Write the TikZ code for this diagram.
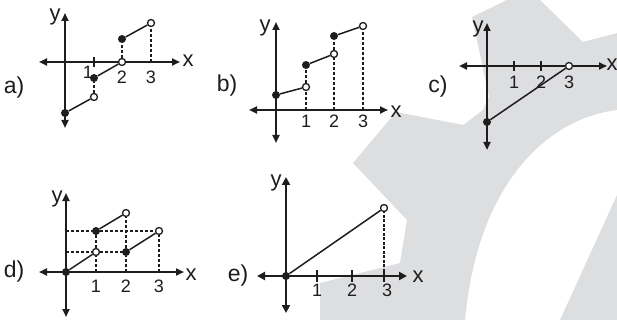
\documentclass[tikz,border=0pt]{standalone}
\usepackage{fontspec}
\setmainfont{Liberation Sans}
\usetikzlibrary{arrows.meta}
\definecolor{gearshade}{RGB}{221,222,224}
\definecolor{inkblack}{RGB}{30,28,29}

\begin{document}
\begin{tikzpicture}[x=1pt, y=-1pt, color=inkblack,
      axis/.style={{Triangle[length=8pt,width=7pt]}-{Triangle[length=8pt,width=7pt]},
                   line width=2pt},
      boldaxis/.style={{Triangle[length=8pt,width=8pt]}-{Triangle[length=8pt,width=8pt]},
                   line width=2.8pt},
      tickmark/.style={line width=1.6pt},
      seg/.style={line width=1.5pt},
      guide/.style={line width=1.3pt, dash pattern=on 3pt off 2pt},
      boldguide/.style={line width=2.4pt, dash pattern=on 3pt off 1.5pt},
      fdot/.style={circle, fill=inkblack, inner sep=0pt, minimum size=8pt},
      odot/.style={circle, draw, fill=white, line width=1.3pt, inner sep=0pt,
                   minimum size=7pt},
      num/.style={font=\fontsize{18}{18}\selectfont},
      axl/.style={font=\fontsize{22}{22}\selectfont},
      lbl/.style={font=\fontsize{23}{23}\selectfont}
    ]
    \useasboundingbox (0,0) rectangle (617,320);

    % gear watermark
    \fill[gearshade] (320,320) -- (320,283) -- (400,263) -- (407,220) -- (353,163)
      -- (396,112) -- (463,125) -- (483,110) -- (489,97) -- (472,17) -- (507,0)
      -- (540,0) -- (583,42) -- (617,33) -- (617,110)
      .. controls (550,118) and (478,180) .. (465,320) -- cycle;
    \fill[gearshade] (560,320) -- (617,195) -- (617,320) -- cycle;

    % a)
    \node[lbl] (lbla) at (14,88) {a)};
    \draw[axis] (39,62) -- (180,62);
    \draw[axis] (65,128) -- (65,13);
    \draw[tickmark] (94,57) -- (94,67);
    \node[axl] (ya) at (55,17) {y};
    \node[axl] (xa) at (188,61) {x};
    \node[num] (na1) at (88,72) {1};
    \node[num] (na2) at (122,77) {2};
    \node[num] (na3) at (151,77) {3};
    \coordinate (a3x) at (151,62);
    \node[fdot] (a0) at (65,113) {};
    \node[odot] (a1o) at (94,97) {};
    \node[fdot] (a1f) at (94,78) {};
    \node[odot] (a2o) at (122,62) {};
    \node[fdot] (a2f) at (122,39) {};
    \node[odot] (a3o) at (151,23) {};
    \draw[seg] (a0) -- (a1o);
    \draw[seg] (a1f) -- (a2o);
    \draw[seg] (a2f) -- (a3o);
    \draw[guide] (a1o) -- (a1f);
    \draw[guide] (a2o) -- (a2f);
    \draw[guide] (a3x) -- (a3o);

    % b)
    \node[lbl] (lblb) at (227,86) {b)};
    \draw[axis] (249,110) -- (388,110);
    \draw[axis] (276,143) -- (276,22);
    \node[axl] (yb) at (265,28) {y};
    \node[axl] (xb) at (396,112) {x};
    \node[num] (nb1) at (306,121) {1};
    \node[num] (nb2) at (334,121) {2};
    \node[num] (nb3) at (363,121) {3};
    \coordinate (b1x) at (306,110);
    \coordinate (b2x) at (334,110);
    \coordinate (b3x) at (363,110);
    \node[fdot] (b0) at (276,95) {};
    \node[odot] (b1o) at (306,87) {};
    \node[fdot] (b1f) at (306,65) {};
    \node[odot] (b2o) at (334,54) {};
    \node[fdot] (b2f) at (334,36) {};
    \node[odot] (b3o) at (363,26) {};
    \draw[seg] (b0) -- (b1o);
    \draw[seg] (b1f) -- (b2o);
    \draw[seg] (b2f) -- (b3o);
    \draw[guide] (b1x) -- (b1o);
    \draw[guide] (b1o) -- (b1f);
    \draw[guide] (b2x) -- (b2o);
    \draw[guide] (b2o) -- (b2f);
    \draw[guide] (b3x) -- (b3o);

    % c)
    \node[lbl] (lblc) at (438,87) {c)};
    \draw[axis] (459,66) -- (607,66);
    \draw[axis] (487,150) -- (487,23);
    \draw[tickmark] (514,61) -- (514,71);
    \draw[tickmark] (541,61) -- (541,71);
    \node[axl] (yc) at (478,29) {y};
    \node[axl] (xc) at (612,65) {x};
    \node[num] (nc1) at (514,82) {1};
    \node[num] (nc2) at (541,82) {2};
    \node[num] (nc3) at (569,82) {3};
    \node[fdot] (c0) at (487,122) {};
    \node[odot] (c3o) at (569,66) {};
    \draw[seg] (c0) -- (c3o);

    % d)
    \node[lbl] (lbld) at (14,272) {d)};
    \draw[axis] (39,272) -- (184,272);
    \draw[axis] (66,317) -- (66,193);
    \node[axl] (yd) at (57,199) {y};
    \node[axl] (xd) at (191,275) {x};
    \node[num] (nd1) at (96,286) {1};
    \node[num] (nd2) at (126,286) {2};
    \node[num] (nd3) at (159,286) {3};
    \coordinate (d1x) at (96,272);
    \coordinate (d2x) at (126,272);
    \coordinate (d3x) at (159,272);
    \coordinate (dlo) at (66,252);
    \coordinate (dhi) at (66,231);
    \node[fdot] (d0) at (66,272) {};
    \node[odot] (d1o) at (96,252) {};
    \node[fdot] (d1f) at (96,231) {};
    \node[odot] (d2o) at (126,213) {};
    \node[fdot] (d2f) at (126,252) {};
    \node[odot] (d3o) at (159,231) {};
    \draw[seg] (d0) -- (d1o);
    \draw[seg] (d1f) -- (d2o);
    \draw[seg] (d2f) -- (d3o);
    \draw[guide] (dhi) -- (d1f);
    \draw[guide] (d1f) -- (d3o);
    \draw[guide] (dlo) -- (d1o);
    \draw[guide] (d1o) -- (d2f);
    \draw[guide] (d1x) -- (d1o);
    \draw[guide] (d1o) -- (d1f);
    \draw[guide] (d2x) -- (d2f);
    \draw[guide] (d2f) -- (d2o);
    \draw[guide] (d3x) -- (d3o);

    % e)
    \node[lbl] (lble) at (238,276) {e)};
    \draw[boldaxis] (257,276) -- (407,276);
    \draw[boldaxis] (286,313) -- (286,177);
    \draw[tickmark] (317,270) -- (317,282);
    \draw[tickmark] (352,270) -- (352,282);
    \draw[tickmark] (384,270) -- (384,282);
    \node[axl] (ye) at (276,183) {y};
    \node[axl] (xe) at (418,277) {x};
    \node[num] (ne1) at (317,290) {1};
    \node[num] (ne2) at (352,290) {2};
    \node[num] (ne3) at (387,290) {3};
    \coordinate (e3x) at (384,276);
    \node[fdot] (e0) at (286,276) {};
    \node[odot] (e3o) at (384,208) {};
    \draw[seg] (e0) -- (e3o);
    \draw[boldguide] (e3x) -- (e3o);
  \end{tikzpicture}
\end{document}
